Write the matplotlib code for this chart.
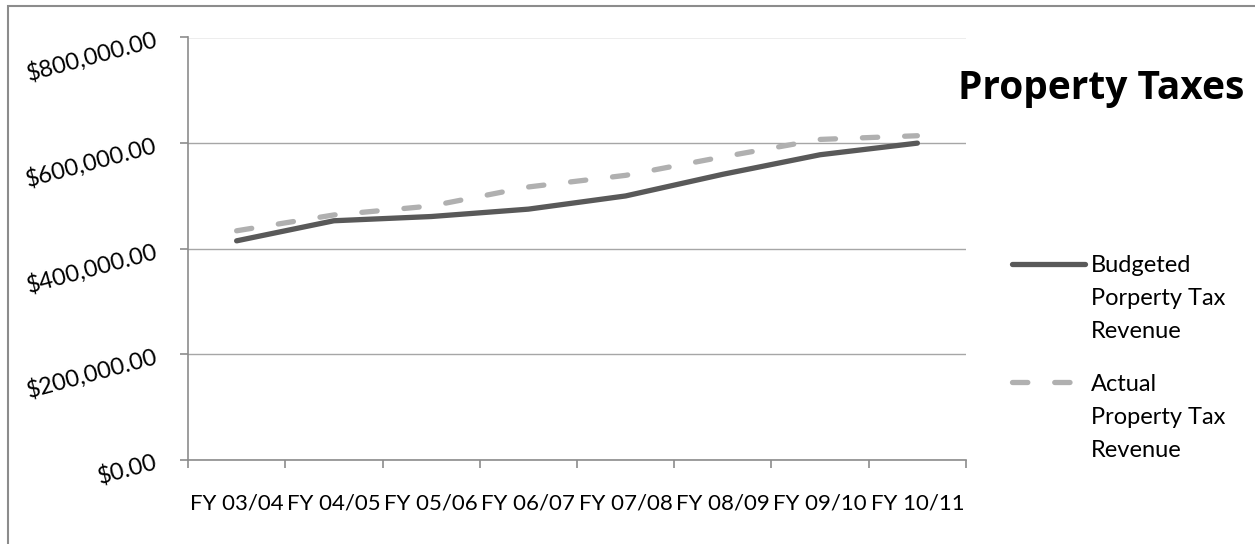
import matplotlib
matplotlib.use("Agg")
import matplotlib.pyplot as plt
from matplotlib.patches import Rectangle
from matplotlib.ticker import FuncFormatter, FixedLocator

# data
years = ["FY 03/04", "FY 04/05", "FY 05/06", "FY 06/07",
         "FY 07/08", "FY 08/09", "FY 09/10", "FY 10/11"]
budgeted = [415000, 453000, 461000, 475000, 500000, 541000, 578000, 600000]
actual = [434000, 464000, 481000, 517000, 539000, 574000, 607000, 614000]

plt.rcParams['font.family'] = ['Lato', 'DejaVu Sans']

W, H = 1255, 544
fig = plt.figure(figsize=(W / 100, H / 100), dpi=100)

# outer chart border (only top/left visible)
fig.patches.append(Rectangle((8 / W, -0.1), 1.2, 1 - 6 / H + 0.1,
                             transform=fig.transFigure, fill=False,
                             edgecolor='#8c8c8c', linewidth=1.5))

ax = fig.add_axes([188 / W, 1 - 460 / H, (966 - 188) / W, (460 - 37.5) / H])

x = range(len(years))
ax.plot(x, budgeted, color='#595959', linewidth=3.8, solid_capstyle='round',
        label='Budgeted\nPorperty Tax\nRevenue')
ln, = ax.plot(x, actual, color='#b0b0b0', linewidth=3.8,
              dash_capstyle='round', label='Actual\nProperty Tax\nRevenue')
ln.set_dashes([2.9, 5.1])

ax.set_xlim(-0.5, len(years) - 0.5)
ax.set_ylim(0, 800000)
ax.set_yticks(range(0, 800001, 200000))
ax.yaxis.set_major_formatter(FuncFormatter(lambda v, p: "${:,.2f}".format(v)))
ax.set_xticks(list(x))
ax.set_xticklabels(years)
ax.xaxis.set_minor_locator(FixedLocator([i - 0.5 for i in range(len(years) + 1)]))

ax.grid(axis='y', color='#a6a6a6', linewidth=1)
ax.set_axisbelow(True)
for s in ['top', 'right']:
    ax.spines[s].set_visible(False)
for s in ['left', 'bottom']:
    ax.spines[s].set_color('#8c8c8c')
    ax.spines[s].set_linewidth(1.2)

ax.tick_params(axis='x', which='major', length=0, pad=24, labelsize=16)
ax.tick_params(axis='x', which='minor', length=6, color='#8c8c8c', width=1.2)
ax.tick_params(axis='y', length=6, color='#8c8c8c', width=1.2, pad=17,
               labelsize=17)
for t in ax.get_yticklabels():
    t.set_rotation(15)
    t.set_rotation_mode('anchor')
    t.set_horizontalalignment('right')
    t.set_verticalalignment('center_baseline')

fig.text(1101 / W, 1 - 88 / H, 'Property Taxes', fontsize=28, fontweight='bold',
         family=['Open Sans', 'DejaVu Sans'], ha='center', va='center')

leg = ax.legend(loc='upper left', bbox_to_anchor=(991 / W, 1 - 234 / H),
                bbox_transform=fig.transFigure, frameon=False, fontsize=17,
                handlelength=3.1, handletextpad=0.25, labelspacing=1.35)
for t in leg.get_texts():
    t.set_linespacing(1.7)
# put the handle beside the first line of each label
for col in leg._legend_handle_box.get_children():
    for row in col.get_children():
        row.align = 'top'

fig.savefig("out.png", dpi=100)
